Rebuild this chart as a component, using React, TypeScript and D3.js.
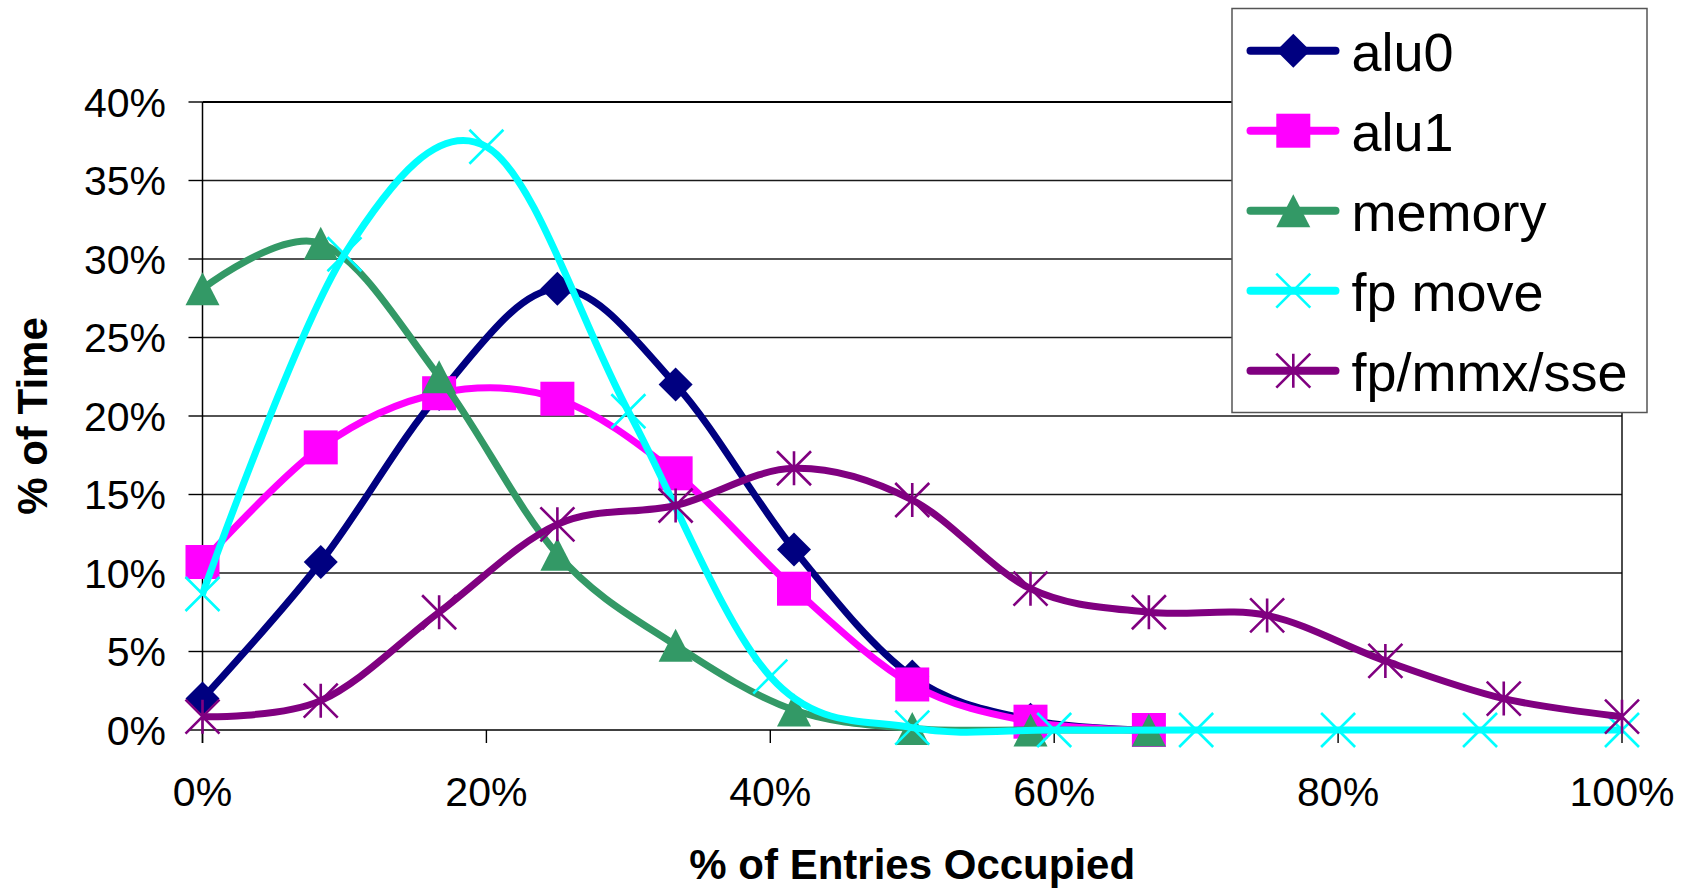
import React from "react";
import * as d3 from "d3";

// Occupancy sample points (% of entries occupied)
const occupancyTwelfths = [0, 8.33, 16.67, 25, 33.33, 41.67, 50, 58.33, 66.67, 75, 83.33, 91.67, 100];
const occupancyTenths = [0, 10, 20, 30, 40, 50, 60, 70, 80, 90, 100];

// % of time spent at each occupancy level
const alu0Values = [2.0, 10.7, 21.4, 28.1, 22.0, 11.5, 3.4, 0.65, 0];
const alu1Values = [10.7, 18.0, 21.45, 21.1, 16.35, 9.0, 2.9, 0.53, 0];
const memoryValues = [28.1, 31.0, 22.5, 11.2, 5.4, 1.27, 0.1, 0, 0];
const fpMoveValues = [8.66, 30.3, 37.15, 20.3, 3.4, 0.15, 0, 0, 0, 0, 0];
const fpMmxSseValues = [0.85, 1.87, 7.5, 13.1, 14.3, 16.67, 14.65, 9.0, 7.5, 7.3, 4.4, 2.0, 0.85];

const seriesNames = ["alu0", "alu1", "memory", "fp move", "fp/mmx/sse"];
const seriesColors = ["#000080", "#FF00FF", "#339966", "#00FFFF", "#800080"];
const seriesMarkers = ["diamond", "square", "triangle", "x", "asterisk"];

const yTicks = [0, 5, 10, 15, 20, 25, 30, 35, 40];
const xTicks = [0, 20, 40, 60, 80, 100];

const W = 1688;
const H = 888;
const plot = { left: 202.5, right: 1622, top: 102, bottom: 730 };

const x = d3.scaleLinear().domain([0, 100]).range([plot.left, plot.right]);
const y = d3.scaleLinear().domain([0, 40]).range([plot.bottom, plot.top]);

const FONT = "'Liberation Sans', Arial, Helvetica, sans-serif";

function Marker({ kind, cx, cy, color }: { kind: string; cx: number; cy: number; color: string }) {
  const r = 17;
  const t = `translate(${cx},${cy})`;
  if (kind === "diamond") {
    return <path transform={t} d={`M0,${-r}L${r},0L0,${r}L${-r},0Z`} fill={color} />;
  }
  if (kind === "square") {
    return <rect x={cx - r} y={cy - r} width={2 * r} height={2 * r} fill={color} />;
  }
  if (kind === "triangle") {
    return <path transform={t} d={`M0,${-16.5}L${r},16.5L${-r},16.5Z`} fill={color} />;
  }
  if (kind === "x") {
    return (
      <path
        transform={t}
        d={`M${-r},${-r}L${r},${r}M${r},${-r}L${-r},${r}`}
        stroke={color}
        strokeWidth={2.6}
        fill="none"
      />
    );
  }
  return (
    <path
      transform={t}
      d={`M${-r},${-r}L${r},${r}M${r},${-r}L${-r},${r}M0,${-r}L0,${r}`}
      stroke={color}
      strokeWidth={2.6}
      fill="none"
    />
  );
}

export default function App() {
  const series = [
    { xs: occupancyTwelfths, ys: alu0Values },
    { xs: occupancyTwelfths, ys: alu1Values },
    { xs: occupancyTwelfths, ys: memoryValues },
    { xs: occupancyTenths, ys: fpMoveValues },
    { xs: occupancyTwelfths, ys: fpMmxSseValues },
  ].map((s, i) => ({
    name: seriesNames[i],
    color: seriesColors[i],
    marker: seriesMarkers[i],
    points: s.ys.map((v, j) => [s.xs[j], v] as [number, number]),
  }));

  const line = d3
    .line<[number, number]>()
    .x((d) => x(d[0]))
    .y((d) => y(d[1]))
    .curve(d3.curveCardinal.tension(0));

  const legend = { x: 1232, y: 8.5, w: 415, h: 404, row0: 50.7, rowStep: 80 };

  return (
    <svg
      width={W}
      height={H}
      style={{ position: "absolute", left: 0, top: 0, background: "#fff" }}
      fontFamily={FONT}
    >
      <rect x={0} y={0} width={W} height={H} fill="#fff" />

      {/* horizontal gridlines */}
      {yTicks.slice(1, -1).map((t) => (
        <line key={t} x1={plot.left} x2={plot.right} y1={y(t)} y2={y(t)} stroke="#1a1a1a" strokeWidth={1.4} />
      ))}

      {/* plot frame */}
      <line x1={plot.left} x2={plot.right} y1={plot.top} y2={plot.top} stroke="#000" strokeWidth={2} />
      <line x1={plot.right} x2={plot.right} y1={plot.top} y2={plot.bottom} stroke="#000" strokeWidth={1.4} />
      <line x1={plot.left} x2={plot.left} y1={plot.top} y2={plot.bottom + 13} stroke="#000" strokeWidth={1.5} />
      <line x1={plot.left} x2={plot.right} y1={plot.bottom} y2={plot.bottom} stroke="#000" strokeWidth={1.5} />

      {/* y axis ticks and labels */}
      {yTicks.map((t) => (
        <g key={t}>
          <line x1={plot.left - 14} x2={plot.left} y1={y(t)} y2={y(t)} stroke="#000" strokeWidth={1.4} />
          <text x={166} y={y(t) + 14.5} fontSize={41} textAnchor="end" fill="#000">
            {t}%
          </text>
        </g>
      ))}

      {/* x axis ticks and labels */}
      {xTicks.map((t) => (
        <g key={t}>
          <line x1={x(t)} x2={x(t)} y1={plot.bottom} y2={plot.bottom + 13} stroke="#000" strokeWidth={1.4} />
          <text x={x(t)} y={806} fontSize={41} textAnchor="middle" fill="#000">
            {t}%
          </text>
        </g>
      ))}

      {/* axis titles */}
      <text x={(plot.left + plot.right) / 2} y={879} fontSize={42} fontWeight="bold" textAnchor="middle" fill="#000">
        % of Entries Occupied
      </text>
      <text
        transform={`translate(47,${(plot.top + plot.bottom) / 2}) rotate(-90)`}
        fontSize={42}
        fontWeight="bold"
        textAnchor="middle"
        fill="#000"
      >
        % of Time
      </text>

      {/* series: line then markers, drawn in order */}
      {series.map((s) => (
        <g key={s.name}>
          <path d={line(s.points) || ""} fill="none" stroke={s.color} strokeWidth={7} strokeLinejoin="round" />
          {s.points.map((p, j) => (
            <Marker key={j} kind={s.marker} cx={x(p[0])} cy={y(p[1])} color={s.color} />
          ))}
        </g>
      ))}

      {/* legend */}
      <rect x={legend.x} y={legend.y} width={legend.w} height={legend.h} fill="#fff" stroke="#555" strokeWidth={1.5} />
      {series.map((s, i) => {
        const cy = legend.row0 + i * legend.rowStep;
        return (
          <g key={s.name}>
            <line x1={1250.5} x2={1335.5} y1={cy} y2={cy} stroke={s.color} strokeWidth={8} strokeLinecap="round" />
            <Marker kind={s.marker} cx={1293.3} cy={cy} color={s.color} />
            <text x={1351.5} y={cy + 20.5} fontSize={54} fill="#000">
              {s.name}
            </text>
          </g>
        );
      })}
    </svg>
  );
}
